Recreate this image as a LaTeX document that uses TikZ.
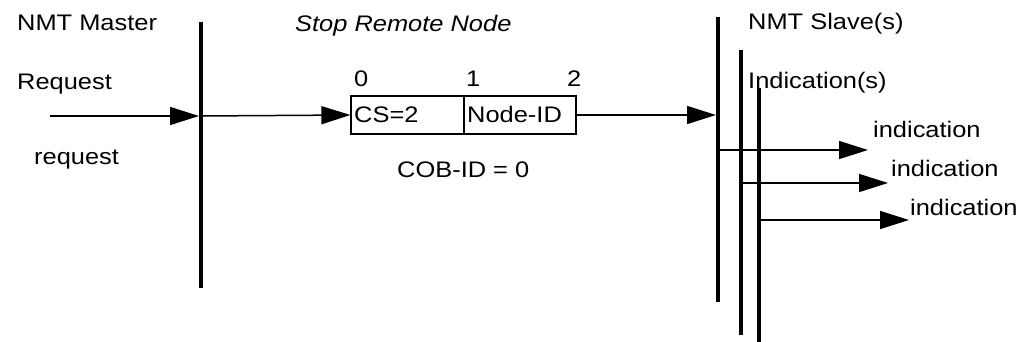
\documentclass[tikz,border=0pt]{standalone}
\usepackage{fontspec}
\setmainfont{Liberation Sans}
\usetikzlibrary{arrows.meta}
\newcommand\stx[1]{\scalebox{1.13}[1]{#1}}
\tikzset{
  txt/.style={anchor=base west,inner sep=0pt,font=\fontsize{22.5}{26}\selectfont},
  life/.style={line width=4.5pt},
  msg/.style={line width=1.5pt,-{Triangle[length=29pt,width=18pt]}},
  cell/.style={draw,line width=1.2pt,minimum height=38pt,inner sep=0pt},
}
\begin{document}
\begin{tikzpicture}[x=1pt,y=-1pt]
\useasboundingbox (0,0) rectangle (1021,342);
% lifelines
\coordinate (mT) at (201,22); \coordinate (mB) at (201,288);
\draw[life] (mT) -- (mB);
\coordinate (s1T) at (718,17); \coordinate (s1B) at (718,302);
\coordinate (s2T) at (741,50); \coordinate (s2B) at (741,335);
\coordinate (s3T) at (759,88); \coordinate (s3B) at (759,342);
\draw[life] (s1T) -- (s1B);
\draw[life] (s2T) -- (s2B);
\draw[life] (s3T) -- (s3B);
% texts
\node[txt] (nm) at (17,31) {\stx{NMT Master}};
\node[txt] (rq) at (17,90) {\stx{Request}};
\node[txt] (rq2) at (34,165) {\stx{request}};
\node[txt] (srn) at (295,32) {\stx{\itshape Stop Remote Node}};
\node[txt] (ns) at (748,30) {\stx{NMT Slave(s)}};
\node[txt] (ind) at (748,89) {\stx{Indication(s)}};
\node[txt] (i1) at (873,138) {\stx{indication}};
\node[txt] (i2) at (891,177) {\stx{indication}};
\node[txt] (i3) at (910,215) {\stx{indication}};
\node[txt] (b0) at (354,87) {\stx{0}};
\node[txt] (b1) at (466,87) {\stx{1}};
\node[txt] (b2) at (567,87) {\stx{2}};
\node[txt] (cob) at (397,178) {\stx{COB-ID = 0}};
% frame box
\node[cell,minimum width=113pt] (cs) at (407.5,115) {};
\node[cell,minimum width=112pt] (nid) at (520,115) {};
\node[txt] (cst) at (354,123) {\stx{CS=2}};
\node[txt] (nidt) at (467,123) {\stx{Node-ID}};
% arrows
\coordinate (r0) at (50,116);
\coordinate (rm) at (199,116);
\coordinate (rm2) at (201,116);
\draw[msg] (r0) -- (rm);
\draw[msg] (rm2) -- (cs.west);
\coordinate (sin) at (716,115);
\draw[msg] (nid.east) -- (sin);
\coordinate (a1s) at (718,150); \coordinate (a1e) at (868,150);
\coordinate (a2s) at (741,183); \coordinate (a2e) at (888,183);
\coordinate (a3s) at (759,220); \coordinate (a3e) at (909,220);
\draw[msg] (a1s) -- (a1e);
\draw[msg] (a2s) -- (a2e);
\draw[msg] (a3s) -- (a3e);
\end{tikzpicture}
\end{document}
